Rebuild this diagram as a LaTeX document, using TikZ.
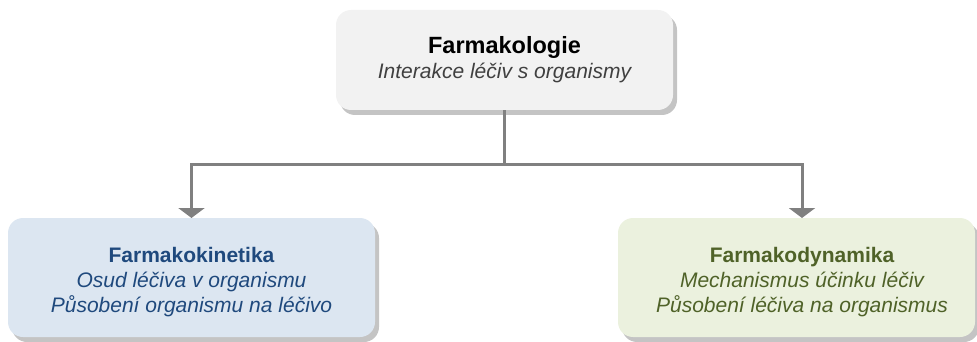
\documentclass[tikz,border=0pt]{standalone}
\usepackage{fontspec}
\setmainfont{Liberation Sans}
\usetikzlibrary{arrows.meta}

\definecolor{topfill}{HTML}{F2F2F2}
\definecolor{kinfill}{HTML}{DCE6F1}
\definecolor{dynfill}{HTML}{EBF1DE}
\definecolor{shadowgray}{HTML}{C4C4C4}
\definecolor{linegray}{HTML}{808080}
\definecolor{subgray}{HTML}{404040}
\definecolor{kinblue}{HTML}{1F497D}
\definecolor{dyngreen}{HTML}{4F6228}

\tikzset{
  card/.style={rectangle, rounded corners=15pt, inner sep=0pt,
    preaction={fill=shadowgray, transform canvas={shift={(4pt,-5pt)}}}},
  cardtext/.style={align=center, inner sep=0pt, font=\fontsize{21}{25}\selectfont},
  conn/.style={draw=linegray, line width=3pt},
  tip/.style={-{Triangle[width=26pt,length=10pt]}},
}

\begin{document}
\begin{tikzpicture}[x=1pt,y=-1pt]
  \useasboundingbox (0,0) rectangle (977,342);

  % card backgrounds
  \node[card, fill=topfill, minimum width=337pt, minimum height=100pt] (farm) at (504.5,60) {};
  \node[card, fill=kinfill, minimum width=367pt, minimum height=119pt] (kin) at (191.5,277.5) {};
  \node[card, fill=dynfill, minimum width=357pt, minimum height=119pt] (dyn) at (796.5,277.5) {};

  % card texts
  \node[cardtext] (farmtext) at (504.5,60)
    {{\fontsize{23.5}{25}\selectfont\bfseries Farmakologie}\\
     {\itshape\color{subgray}Interakce léčiv s organismy}};
  \node[cardtext, text=kinblue] (kintext) at (191.5,282)
    {{\bfseries Farmakokinetika}\\
     {\itshape Osud léčiva v organismu}\\
     {\itshape Působení organismu na léčivo}};
  \node[cardtext, text=dyngreen] (dyntext) at (802,282)
    {{\bfseries Farmakodynamika}\\
     {\itshape Mechanismus účinku léčiv}\\
     {\itshape Působení léčiva na organismus}};

  % branching connector
  \coordinate (fork) at (504.5,164);
  \coordinate (kintop) at (191.5,218);
  \coordinate (dyntop) at (802,218);
  \draw[conn] (farm.south) -- (fork);
  \draw[conn, tip] (fork) -| (kintop);
  \draw[conn, tip] (fork) -| (dyntop);
\end{tikzpicture}
\end{document}
